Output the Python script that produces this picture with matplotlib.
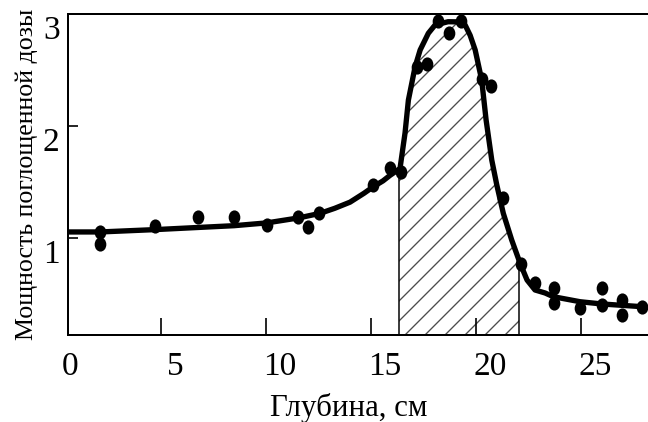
import numpy as np
import matplotlib
matplotlib.use("Agg")
import matplotlib.pyplot as plt
from matplotlib.markers import MarkerStyle
from matplotlib.transforms import Affine2D, ScaledTranslation

# measured points (depth, cm / relative dose rate)
depth_pts = [1.43, 1.43, 4.05, 6.11, 7.81, 9.37, 10.87, 11.35, 11.87, 14.44,
             15.24, 15.75, 16.51, 17.01, 17.54, 18.06, 18.62, 19.62, 20.02, 20.6,
             21.45, 22.14, 23.05, 23.05, 24.29, 25.32, 25.32, 26.3, 26.3, 27.22]
dose_pts = [1.056, 0.946, 1.107, 1.19, 1.185, 1.116, 1.19, 1.096, 1.221, 1.473,
            1.622, 1.592, 2.53, 2.554, 2.94, 2.828, 2.94, 2.42, 2.353, 1.354,
            0.768, 0.595, 0.558, 0.424, 0.379, 0.551, 0.402, 0.446, 0.313, 0.384]

# fitted curve
curve_x = [-0.1, 1.43, 4.05, 6.19, 7.81, 9.37, 10.9, 11.9, 12.6, 13.33,
           14.0, 14.44, 14.9, 15.24, 15.71, 15.95, 16.11, 16.43, 16.67, 17.06,
           17.38, 18.0, 18.4, 18.81, 19.05, 19.29, 19.6, 19.81, 20.08, 20.32,
           20.63, 21.03, 21.43, 21.76, 22.14, 22.62, 23.01, 24.29, 25.32, 27.22,
           27.52]
curve_y = [1.054, 1.054, 1.075, 1.095, 1.11, 1.135, 1.18, 1.22, 1.265, 1.32,
           1.40, 1.458, 1.51, 1.56, 1.62, 1.938, 2.232, 2.53, 2.679, 2.828,
           2.902, 2.931, 2.93, 2.902, 2.81, 2.679, 2.411, 2.054, 1.696, 1.473,
           1.22, 0.982, 0.774, 0.625, 0.536, 0.509, 0.476, 0.431, 0.411, 0.387,
           0.38]

# hatched zone boundaries
zone = (15.67, 21.38)

xticks = [0, 5, 10, 15, 20, 25]
yticks = [1, 2, 3]

plt.rcParams["font.family"] = ["Liberation Serif", "DejaVu Serif"]
plt.rcParams["hatch.linewidth"] = 0.8

fig = plt.figure(figsize=(5.4, 422 / 120), dpi=120)
ax = fig.add_axes([68 / 648, 87 / 422, 1 - 68 / 648, 321 / 422])

cx = np.array(curve_x)
cy = np.array(curve_y)
ybot = 0.134

inside = (cx > zone[0]) & (cx < zone[1])
zx = np.concatenate([[zone[0]], cx[inside], [zone[1]]])
zy = np.interp(zx, cx, cy)
ax.fill_between(zx, zy, ybot, facecolor="none", edgecolor="0.3",
                hatch="//", linewidth=0, zorder=1)
ax.vlines(zone, ybot, np.interp(zone, cx, cy), color="black", lw=0.9, zorder=2)

ax.plot(cx, cy, color="black", lw=3.2, solid_joinstyle="round",
        solid_capstyle="round", zorder=3)
mk = MarkerStyle("o", transform=Affine2D().scale(0.8, 1.0))
ax.plot(depth_pts, dose_pts, linestyle="none", marker=mk, markersize=7.5,
        color="black", zorder=4, clip_on=False)

ax.set_xlim(-0.1, 27.52)
ax.set_ylim(ybot, 3.0)

ax.spines["right"].set_visible(False)
for s in ("left", "bottom", "top"):
    ax.spines[s].set_linewidth(1.2)

ax.set_xticks(xticks)
ax.set_xticklabels([str(t) for t in xticks], fontsize=20)
ax.set_xticks([t - 0.65 for t in xticks[1:]], minor=True)
ax.tick_params(axis="x", which="major", length=0, pad=10)
ax.tick_params(axis="x", which="minor", direction="in", length=10, width=1)

ax.set_yticks(yticks)
ax.set_yticklabels([str(t) for t in yticks], fontsize=20)
ax.tick_params(axis="y", which="major", direction="in", length=6, width=1, pad=5)
shift = ScaledTranslation(0, -13 / 120, fig.dpi_scale_trans)
for lab in ax.get_yticklabels():
    lab.set_transform(lab.get_transform() + shift)

ax.set_xlabel("Глубина, см", fontsize=18.5, labelpad=8)
ax.xaxis.set_label_coords(0.484, -0.18)
ax.set_ylabel("Мощность поглощенной дозы", fontsize=15.5, labelpad=3)

fig.savefig("out.png", dpi=120, facecolor="white")
